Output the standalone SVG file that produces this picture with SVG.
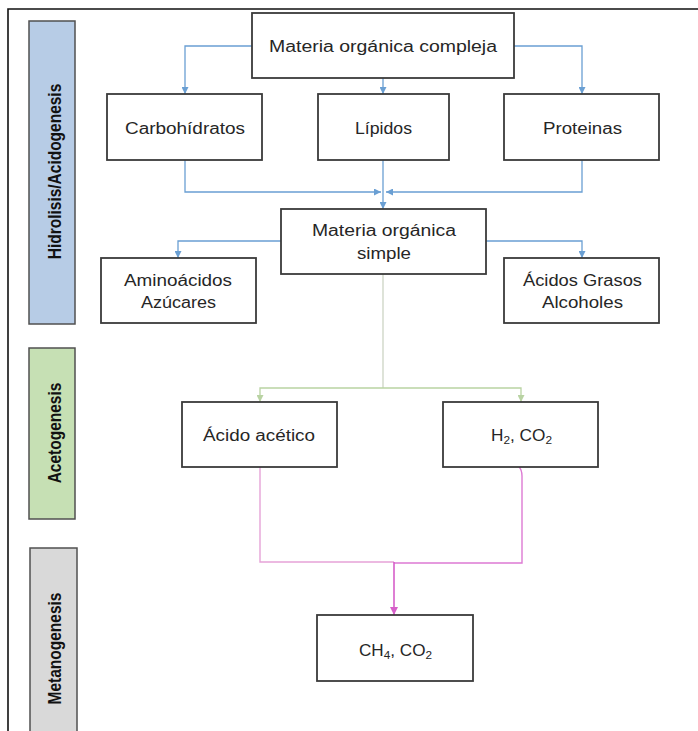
<svg xmlns="http://www.w3.org/2000/svg" width="698" height="731" viewBox="0 0 698 731">
<style>
.node{fill:#ffffff;stroke:#3a3a3a;stroke-width:1.8}
.t{font-family:"Liberation Sans",Arial,sans-serif;font-size:16px;fill:#262626}
.side{font-family:"Liberation Sans",Arial,sans-serif;font-size:15.5px;font-weight:bold;fill:#111;text-anchor:middle}
.bar{stroke:#505050;stroke-width:1.5}
.cb{fill:none;stroke:#6a9fd3;stroke-width:1.3}
.cg{fill:none;stroke:#b9d3a3;stroke-width:1.3}
.cgv{fill:none;stroke:#cdd4c4;stroke-width:1.3}
.cp1{fill:none;stroke:#e6a3d8;stroke-width:1.4}
.cp2{fill:none;stroke:#dd7ad3;stroke-width:1.4}
.cp3{fill:none;stroke:#d65fc9;stroke-width:1.6}
</style>
<defs>
<marker id="ab" viewBox="0 0 10 10" refX="10" refY="5" markerWidth="7" markerHeight="7" markerUnits="userSpaceOnUse" orient="auto"><path d="M0,0 L10,5 L0,10 z" fill="#6a9fd3"/></marker>
<marker id="ag" viewBox="0 0 10 10" refX="10" refY="5" markerWidth="7" markerHeight="7" markerUnits="userSpaceOnUse" orient="auto"><path d="M0,0 L10,5 L0,10 z" fill="#b9d3a3"/></marker>
<marker id="ap" viewBox="0 0 10 10" refX="10" refY="5" markerWidth="8" markerHeight="8" markerUnits="userSpaceOnUse" orient="auto"><path d="M0,0 L10,5 L0,10 z" fill="#d65fc9"/></marker>
</defs>
<rect x="0" y="0" width="698" height="731" fill="#ffffff"/>
<path d="M8,731 V9 H698" fill="none" stroke="#111" stroke-width="1.6"/>

<g id="stage-hidrolisis">
<rect class="bar" x="29" y="21" width="46" height="303" fill="#b7cce6"/>
<text class="side" transform="translate(61,171.5) rotate(-90) scale(1,1.18)">Hidrolisis/Acidogenesis</text>
</g>
<g id="stage-acetogenesis">
<rect class="bar" x="29" y="348" width="46" height="171" fill="#c6e0b4"/>
<text class="side" transform="translate(61,433) rotate(-90) scale(1,1.18)">Acetogenesis</text>
</g>
<g id="stage-metanogenesis">
<rect class="bar" x="30" y="548" width="47" height="190" fill="#d9d9d9"/>
<text class="side" transform="translate(61,648.5) rotate(-90) scale(1,1.18)">Metanogenesis</text>
</g>

<g id="connectors">
<path class="cb" d="M252,46 H185 V94" marker-end="url(#ab)"/>
<path class="cb" d="M383,78 V94" marker-end="url(#ab)"/>
<path class="cb" d="M514,46 H582 V94" marker-end="url(#ab)"/>
<path class="cb" d="M185,160 V192 H381" marker-end="url(#ab)"/>
<path class="cb" d="M582,160 V192 H386" marker-end="url(#ab)"/>
<path class="cb" d="M383,160 V209" marker-end="url(#ab)"/>
<path class="cb" d="M281,241 H178 V258" marker-end="url(#ab)"/>
<path class="cb" d="M486,241 H582 V258" marker-end="url(#ab)"/>
<path class="cgv" d="M383,274 V388"/>
<path class="cg" d="M383,388 H260 V402" marker-end="url(#ag)"/>
<path class="cg" d="M383,388 H521 V402" marker-end="url(#ag)"/>
<path class="cp1" d="M260,467 V562 H394"/>
<path class="cp2" d="M519,467 Q522,470 522,476 V563 H394"/>
<path class="cp3" d="M394,562 V615" marker-end="url(#ap)"/>
</g>

<g id="n-compleja">
<rect class="node" x="252" y="13" width="262" height="65"/>
<text class="t" x="269" y="52" textLength="228" lengthAdjust="spacingAndGlyphs">Materia orgánica compleja</text>
</g>
<g id="n-carbo">
<rect class="node" x="107" y="94" width="155" height="66"/>
<text class="t" x="125" y="134" textLength="120" lengthAdjust="spacingAndGlyphs">Carbohídratos</text>
</g>
<g id="n-lipidos">
<rect class="node" x="318" y="94" width="131" height="66"/>
<text class="t" x="355" y="134" textLength="57" lengthAdjust="spacingAndGlyphs">Lípidos</text>
</g>
<g id="n-proteinas">
<rect class="node" x="504" y="94" width="155" height="66"/>
<text class="t" x="543" y="134" textLength="79" lengthAdjust="spacingAndGlyphs">Proteinas</text>
</g>
<g id="n-simple">
<rect class="node" x="281" y="209" width="205" height="65"/>
<text class="t" x="312" y="236" textLength="144" lengthAdjust="spacingAndGlyphs">Materia orgánica</text>
<text class="t" x="357" y="259" textLength="54" lengthAdjust="spacingAndGlyphs">simple</text>
</g>
<g id="n-aminoacidos">
<rect class="node" x="101" y="258" width="155" height="65"/>
<text class="t" x="124" y="286" textLength="108" lengthAdjust="spacingAndGlyphs">Aminoácidos</text>
<text class="t" x="141" y="308" textLength="75" lengthAdjust="spacingAndGlyphs">Azúcares</text>
</g>
<g id="n-acidosgrasos">
<rect class="node" x="504" y="258" width="155" height="65"/>
<text class="t" x="523" y="286" textLength="119" lengthAdjust="spacingAndGlyphs">Ácidos Grasos</text>
<text class="t" x="542" y="308" textLength="81" lengthAdjust="spacingAndGlyphs">Alcoholes</text>
</g>
<g id="n-acetico">
<rect class="node" x="182" y="402" width="155" height="65"/>
<text class="t" x="203" y="441" textLength="112" lengthAdjust="spacingAndGlyphs">Ácido acético</text>
</g>
<g id="n-h2co2">
<rect class="node" x="443" y="402" width="155" height="65"/>
<text class="t" x="491" y="441" textLength="61" lengthAdjust="spacingAndGlyphs">H<tspan font-size="11" dy="3">2</tspan><tspan dy="-3">, CO</tspan><tspan font-size="11" dy="3">2</tspan></text>
</g>
<g id="n-ch4co2">
<rect class="node" x="317" y="615" width="156" height="66"/>
<text class="t" x="359" y="656" textLength="73" lengthAdjust="spacingAndGlyphs">CH<tspan font-size="11" dy="3">4</tspan><tspan dy="-3">, CO</tspan><tspan font-size="11" dy="3">2</tspan></text>
</g>
</svg>
